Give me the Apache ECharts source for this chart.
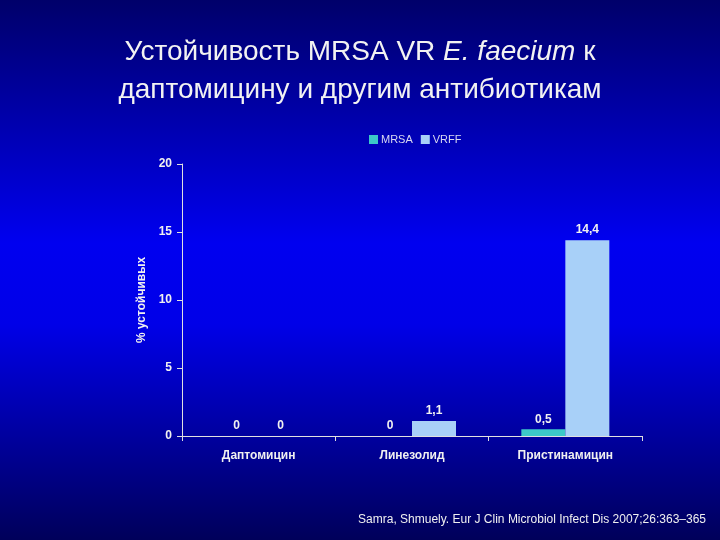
<!DOCTYPE html>
<html><head><meta charset="utf-8">
<script src="https://cdn.jsdelivr.net/npm/echarts@6/dist/echarts.min.js"></script>
<style>html,body{margin:0;padding:0;}#c{width:720px;height:540px;}</style>
</head><body><div id="c"></div>
<script>
const categories = ['Даптомицин', 'Линезолид', 'Пристинамицин'];
const mrsaValues = [0, 0, 0.5];
const vrffValues = [0, 1.1, 14.4];
const seriesNames = ['MRSA', 'VRFF'];
const yTicks = [0, 5, 10, 15, 20];

const chart = echarts.init(document.getElementById('c'));
const fmt = p => String(p.value).replace('.', ',');
const labelStyle = {show: true, position: 'top', color: '#f0f0f0', fontFamily: 'Liberation Sans, Arial', fontSize: 12, fontWeight: 'bold', formatter: fmt, distance: 4};
chart.setOption({
  backgroundColor: {type: 'linear', x: 0, y: 0, x2: 0, y2: 1, colorStops: [
    {offset: 0, color: '#00006a'}, {offset: 0.45, color: '#0000f0'}, {offset: 0.6, color: '#0000e8'}, {offset: 1, color: '#00005a'}]},
  title: {
    text: '{n|Устойчивость MRSA VR }{i|E. faecium}{n| к}\n{n|даптомицину и другим антибиотикам}',
    left: 'center', top: 28,
    textStyle: {fontWeight: 'normal', rich: {
      n: {fontFamily: 'Liberation Sans, Arial', fontSize: 28, fontWeight: 'normal', color: '#f2f2f2', lineHeight: 38},
      i: {fontFamily: 'Liberation Sans, Arial', fontSize: 28, fontWeight: 'normal', fontStyle: 'italic', color: '#f2f2f2', lineHeight: 38}
    }}
  },
  legend: {
    data: seriesNames, left: 364, top: 129, itemWidth: 9, itemHeight: 9, itemGap: 8, icon: 'rect',
    textStyle: {color: '#d8d8f0', fontFamily: 'Liberation Sans, Arial', fontSize: 11, padding: [0, 0, 0, -2]}
  },
  grid: {left: 182, right: 78, top: 164, bottom: 104, containLabel: false},
  xAxis: {
    type: 'category', data: categories,
    axisLine: {lineStyle: {color: '#e0e0e0', width: 1}},
    axisTick: {show: true, alignWithLabel: false, length: 5, lineStyle: {color: '#e0e0e0'}},
    axisLabel: {color: '#f0f0f0', fontFamily: 'Liberation Sans, Arial', fontSize: 12, fontWeight: 'bold', margin: 14}
  },
  yAxis: {
    type: 'value', min: 0, max: 20, interval: 5,
    name: '% устойчивых', nameLocation: 'middle', nameGap: 28, nameRotate: 90,
    nameTextStyle: {color: '#f0f0f0', fontFamily: 'Liberation Sans, Arial', fontSize: 12, fontWeight: 'bold'},
    axisLine: {show: true, lineStyle: {color: '#e0e0e0', width: 1}},
    axisTick: {show: true, length: 5, inside: false, lineStyle: {color: '#e0e0e0'}},
    splitLine: {show: false},
    axisLabel: {color: '#f0f0f0', fontFamily: 'Liberation Sans, Arial', fontSize: 12, fontWeight: 'bold', margin: 10,
      formatter: v => yTicks.includes(v) ? String(v) : ''}
  },
  series: [
    {name: seriesNames[0], type: 'bar', data: mrsaValues, barWidth: 44, barGap: '0%',
     itemStyle: {color: '#3cc8c8'}, label: labelStyle},
    {name: seriesNames[1], type: 'bar', data: vrffValues, barWidth: 44,
     itemStyle: {color: '#a8d0f8'}, label: labelStyle}
  ],
  graphic: [{type: 'text', right: 14, top: 514, style: {text: 'Samra, Shmuely. Eur J Clin Microbiol Infect Dis 2007;26:363–365',
    fill: '#f0f0f0', font: '12px "Liberation Sans Narrow", "Liberation Sans", Arial'}}]
});
</script></body></html>
